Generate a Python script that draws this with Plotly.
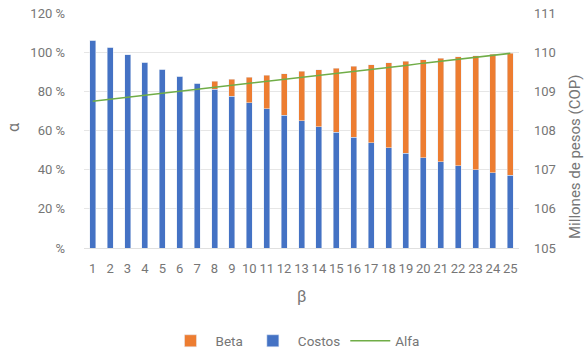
import plotly.graph_objects as go

categorias = [str(i) for i in range(1, 26)]
costos = [106.1, 102.4, 98.8, 94.9, 91.3, 87.8, 84.2, 81.0, 77.6, 74.2, 71.1, 67.9, 65.0,
          61.9, 59.2, 56.5, 53.8, 51.2, 48.5, 46.1, 44.0, 42.1, 39.9, 38.4, 37.2]
beta = [0, 0, 0, 0, 0, 0, 0, 4.1, 8.5, 12.9, 17.0, 21.2, 25.2,
        29.1, 32.6, 36.2, 39.9, 43.3, 46.9, 50.0, 52.9, 55.5, 58.4, 60.6, 62.3]
alfa = [108.75, 108.80, 108.85, 108.90, 108.95, 109.00, 109.05, 109.11, 109.16, 109.21,
        109.26, 109.31, 109.36, 109.41, 109.46, 109.51, 109.56, 109.61, 109.66, 109.72,
        109.77, 109.82, 109.87, 109.92, 109.97]
left_ticks = [0, 20, 40, 60, 80, 100, 120]
left_ticktext = ["%", "20 %", "40 %", "60 %", "80 %", "100 %", "120 %"]
right_ticks = [105, 106, 107, 108, 109, 110, 111]

FONT = "Roboto"
GREY = "#767676"

L, R, T, B = 84, 586 - 67, 13, 357 - 109
W, H = R - L, B - T
def px(xp): return (xp - L) / W
def py(yp): return (B - yp) / H

fig = go.Figure()
fig.add_trace(go.Bar(x=categorias, y=costos, name="Costos", marker_color="#4472C4",
                     legendrank=2))
fig.add_trace(go.Bar(x=categorias, y=beta, name="Beta", marker_color="#ED7D31",
                     legendrank=1))
fig.add_trace(go.Scatter(x=categorias, y=alfa, name="Alfa", mode="lines",
                         line=dict(color="#70AD47", width=1.5), yaxis="y2", legendrank=3))

fig.update_layout(
    width=586, height=357,
    barmode="stack", bargap=0.655,
    paper_bgcolor="white", plot_bgcolor="white",
    margin=dict(l=L, r=586 - R, t=T, b=357 - B, autoexpand=False),
    font=dict(family=FONT, color=GREY, size=13),
    showlegend=True,
    legend=dict(orientation="h", x=px(295), xanchor="center", y=py(341), yanchor="middle",
                traceorder="normal",
                font=dict(size=13.5, color=GREY), itemwidth=40, tracegroupgap=0),
    xaxis=dict(type="category", tickangle=0, showgrid=False, ticks="",
               tickfont=dict(size=13, color=GREY), ticklabelstandoff=11),
    yaxis=dict(range=[0, 120], tickvals=left_ticks, ticktext=left_ticktext,
               showgrid=True, gridcolor="#e6e6e6", gridwidth=1,
               zeroline=True, zerolinecolor="#e0e0e0", zerolinewidth=1,
               tickfont=dict(size=13, color=GREY), ticklabelstandoff=18),
    yaxis2=dict(range=[105, 111], tickvals=right_ticks, overlaying="y", side="right",
                showgrid=False, zeroline=False,
                tickfont=dict(size=13, color=GREY), ticklabelstandoff=14),
    annotations=[
        dict(text="α", x=px(13), y=py(128), xref="paper", yref="paper", showarrow=False,
             xanchor="center", yanchor="middle",
             font=dict(size=16, color=GREY), textangle=-90),
        dict(text="β", x=px(301), y=py(296), xref="paper", yref="paper", showarrow=False,
             xanchor="center", yanchor="middle",
             font=dict(size=16, color=GREY)),
        dict(text="Millones de pesos (COP)", x=px(575), y=py(157), xref="paper",
             yref="paper", showarrow=False, xanchor="center", yanchor="middle",
             font=dict(size=15, color=GREY), textangle=-90),
    ],
)

fig.write_html("out.html", config={"displayModeBar": False},
               post_script="document.body.style.margin='0';")
